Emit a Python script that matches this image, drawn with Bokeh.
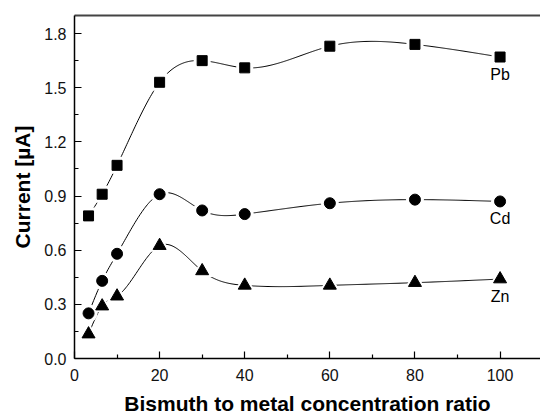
import numpy as np
from bokeh.plotting import figure
from bokeh.models import Range1d, LinearAxis, FixedTicker, ColumnDataSource, CustomJSTickFormatter
from bokeh.core.properties import value
from bokeh.embed import file_html
from bokeh.resources import INLINE

ratio = [3.3, 6.5, 10, 20, 30, 40, 60, 80, 100]
pb = [0.79, 0.91, 1.07, 1.53, 1.65, 1.61, 1.73, 1.74, 1.67]
cd = [0.25, 0.43, 0.58, 0.91, 0.82, 0.80, 0.86, 0.88, 0.87]
zn = [0.135, 0.29, 0.345, 0.625, 0.485, 0.405, 0.405, 0.42, 0.44]
series_names = ["Pb", "Cd", "Zn"]
x_ticks = [0, 20, 40, 60, 80, 100]
y_ticks = [0.0, 0.3, 0.6, 0.9, 1.2, 1.5, 1.8]

FONT = "Liberation Sans"


def natural_spline(x, y, n=400):
    x = np.asarray(x, float)
    y = np.asarray(y, float)
    m = len(x)
    h = np.diff(x)
    A = np.zeros((m, m))
    b = np.zeros(m)
    A[0, 0] = 1
    A[-1, -1] = 1
    for i in range(1, m - 1):
        A[i, i - 1] = h[i - 1]
        A[i, i] = 2 * (h[i - 1] + h[i])
        A[i, i + 1] = h[i]
        b[i] = 3 * ((y[i + 1] - y[i]) / h[i] - (y[i] - y[i - 1]) / h[i - 1])
    c = np.linalg.solve(A, b)
    xs = np.linspace(x[0], x[-1], n)
    idx = np.clip(np.searchsorted(x, xs) - 1, 0, m - 2)
    dx = xs - x[idx]
    bb = (y[idx + 1] - y[idx]) / h[idx] - h[idx] * (2 * c[idx] + c[idx + 1]) / 3
    dd = (c[idx + 1] - c[idx]) / (3 * h[idx])
    ys = y[idx] + bb * dx + c[idx] * dx ** 2 + dd * dx ** 3
    return xs, ys


p = figure(width=540, height=417, output_backend="svg", toolbar_location=None,
           x_range=Range1d(0, 109.5), y_range=Range1d(0, 1.9),
           min_border_left=74, min_border_right=0, min_border_top=15, min_border_bottom=56)
p.outline_line_color = None
p.grid.visible = False
p.background_fill_color = "white"
p.border_fill_color = "white"

# curves
for ys in (pb, cd, zn):
    sx, sy = natural_spline(ratio, ys)
    p.line(sx, sy, line_color="black", line_width=1)

# markers with white halo to create gaps
src = ColumnDataSource(dict(x=ratio, pb=pb, cd=cd, zn=zn))
p.scatter("x", "pb", source=src, marker="square", size=17, fill_color="white", line_color=None)
p.scatter("x", "cd", source=src, marker="circle", size=18, fill_color="white", line_color=None)
p.scatter("x", "zn", source=src, marker="triangle", size=21, fill_color="white", line_color=None)
p.scatter("x", "pb", source=src, marker="square", size=10, fill_color="black", line_color="black")
p.scatter("x", "cd", source=src, marker="circle", size=11, fill_color="black", line_color="black")
p.scatter("x", "zn", source=src, marker="triangle", size=13, fill_color="black", line_color="black")

# series labels
lab = ColumnDataSource(dict(x=[ratio[-1]] * 3, y=[pb[-1], cd[-1], zn[-1]], t=series_names))
p.text("x", "y", text="t", source=lab, text_align="center", text_baseline="middle",
       y_offset=17, text_font=value(FONT), text_font_size="16px", text_color="black")

# axes
xa = p.xaxis[0]
xa.ticker = FixedTicker(ticks=x_ticks, minor_ticks=[10, 30, 50, 70, 90])
xa.axis_label = "Bismuth to metal concentration ratio"
ya = p.yaxis[0]
ya.ticker = FixedTicker(ticks=y_ticks, minor_ticks=[0.15, 0.45, 0.75, 1.05, 1.35, 1.65])
ya.axis_label = "Current [\u00b5A]"
ya.formatter = CustomJSTickFormatter(code="return tick.toFixed(1);")

for ax in (xa, ya):
    ax.axis_line_color = "black"
    ax.axis_line_width = 1.5
    ax.major_tick_in = 7
    ax.major_tick_out = 0
    ax.minor_tick_in = 4
    ax.minor_tick_out = 0
    ax.major_tick_line_color = "black"
    ax.minor_tick_line_color = "black"
    ax.major_tick_line_width = 1.2
    ax.minor_tick_line_width = 1.2
    ax.major_label_text_font = FONT
    ax.major_label_text_font_size = "16px"
    ax.major_label_text_color = "#111111"
    ax.axis_label_text_font = FONT
    ax.axis_label_text_font_size = "21px"
    ax.axis_label_text_font_style = "bold"
    ax.axis_label_text_color = "black"

xa.major_label_standoff = 10
xa.axis_label_standoff = 8
ya.major_label_standoff = 8
ya.axis_label_standoff = 7

top = LinearAxis(ticker=FixedTicker(ticks=[]), axis_line_color="#444444", axis_line_width=2,
                 major_tick_line_color=None, minor_tick_line_color=None,
                 major_label_text_font_size="0px", major_label_standoff=0)
p.add_layout(top, "above")

open("out.html", "w").write(file_html(p, INLINE))
